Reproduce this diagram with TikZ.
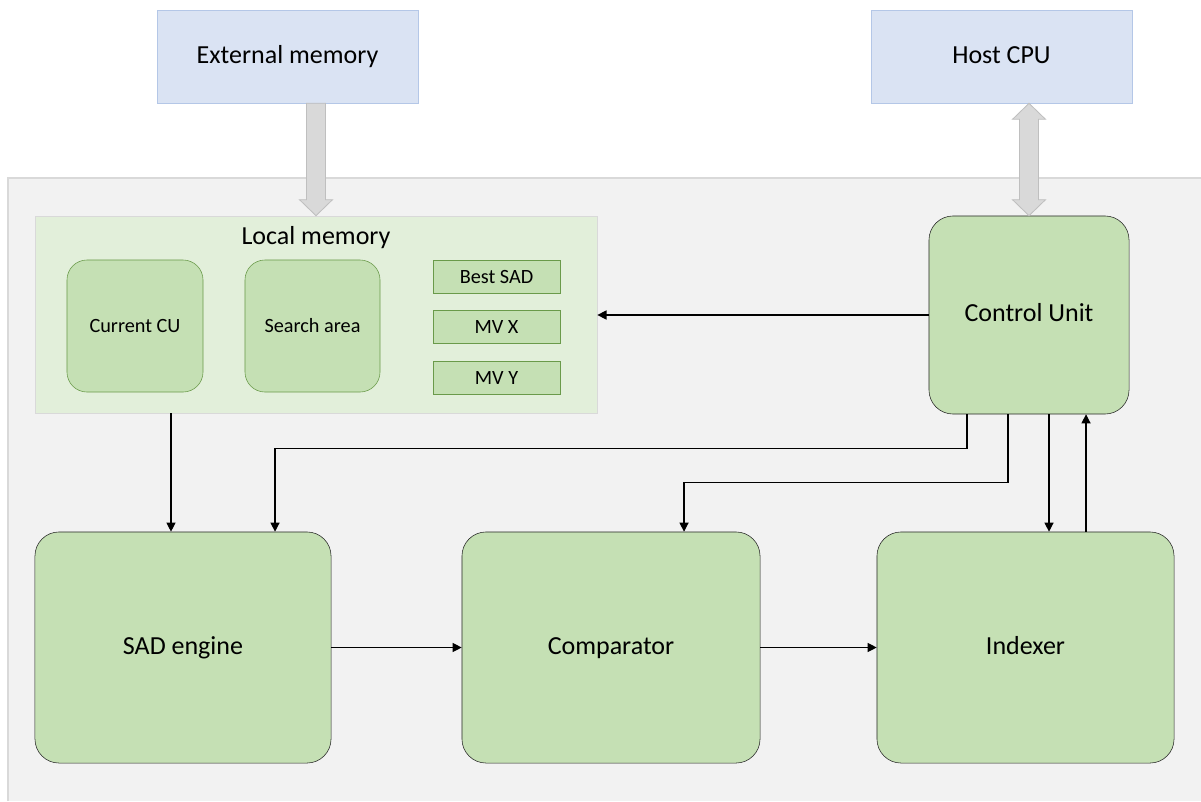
\documentclass[tikz,border=0pt]{standalone}
\usepackage{fontspec}
\setmainfont{Carlito}
\usetikzlibrary{arrows.meta}

\definecolor{hostblue}{HTML}{DAE3F3}
\definecolor{hostline}{HTML}{B4C7E7}
\definecolor{panelgray}{HTML}{F2F2F2}
\definecolor{panelline}{HTML}{D9D9D9}
\definecolor{memgreen}{HTML}{E2EFDA}
\definecolor{unitgreen}{HTML}{C5E0B4}
\definecolor{cellline}{HTML}{6A9A4A}
\definecolor{busgray}{HTML}{D9D9D9}
\definecolor{busline}{HTML}{BFBFBF}

\begin{document}
\begin{tikzpicture}[
  x=0.025cm, y=-0.025cm,
  outside/.style={draw=hostline, fill=hostblue, minimum width=6.525cm, minimum height=2.325cm, text height=2ex, text depth=0pt, font=\fontsize{18.5}{22}\selectfont},
  unit/.style={draw=black!85, fill=unitgreen, rounded corners=0.6cm, minimum height=5.775cm, text height=2ex, text depth=0pt, font=\fontsize{18.5}{22}\selectfont},
  memcell/.style={draw=cellline, fill=unitgreen, rounded corners=0.5cm, minimum height=3.3cm, text height=2ex, text depth=0pt, font=\fontsize{14.4}{17}\selectfont},
  reg/.style={draw=cellline, fill=unitgreen, minimum width=3.175cm, minimum height=0.825cm, text height=2ex, text depth=0pt, font=\fontsize{14.4}{17}\selectfont},
  wire/.style={-{Triangle[width=6.5pt,length=6.5pt]}, line width=0.8pt},
  bus/.style={draw=busline, fill=busgray, line width=0.6pt}
]
\useasboundingbox (0,0) rectangle (1201,801);

% chip area
\fill[panelgray] (8,178) rectangle (1201,801);
\draw[panelline, line width=0.8pt] (8,801) -- (8,178) -- (1201,178);

\node[outside] (ext) at (287.5,56.5) {External memory};
\node[outside] (host) at (1001.5,56.5) {Host CPU};

\node[draw=panelline, fill=memgreen, minimum width=14.05cm, minimum height=4.925cm] (locmem) at (316,314.5) {};
\node[font=\fontsize{18.5}{22}\selectfont, text height=2ex, text depth=0pt] (lmtitle) at ([yshift=-0.55cm]locmem.north) {Local memory};
\node[memcell, minimum width=3.4cm] (curcu) at (135,326) {Current CU};
\node[memcell, minimum width=3.375cm] (search) at (312.5,326) {Search area};
\node[reg] (bestsad) at (496.5,276.5) {Best SAD};
\node[reg] (mvx) at (496.5,327) {MV X};
\node[reg] (mvy) at (496.5,377.5) {MV Y};

\node[unit, minimum width=5cm, minimum height=4.95cm] (ctrl) at (1029,315) {Control Unit};
\node[unit, minimum width=7.4cm] (sad) at (183,647.5) {SAD engine};
\node[unit, minimum width=7.45cm] (comp) at (611,647.5) {Comparator};
\node[unit, minimum width=7.425cm] (idx) at (1025.5,647.5) {Indexer};

% block arrows
\draw[bus] ([xshift=-0.2375cm]locmem.north |- ext.south) -- ([xshift=-0.2375cm,yshift=0.4cm]locmem.north)
  -- ([xshift=-0.4125cm,yshift=0.4cm]locmem.north) -- (locmem.north)
  -- ([xshift=0.4125cm,yshift=0.4cm]locmem.north) -- ([xshift=0.2375cm,yshift=0.4cm]locmem.north)
  -- ([xshift=0.2375cm]locmem.north |- ext.south) -- cycle;
\coordinate (ht) at (ctrl.north |- host.south);
\draw[bus] (ht) -- ([xshift=0.4125cm,yshift=-0.4cm]ht) -- ([xshift=0.2375cm,yshift=-0.4cm]ht)
  -- ([xshift=0.2375cm,yshift=0.4cm]ctrl.north) -- ([xshift=0.4125cm,yshift=0.4cm]ctrl.north)
  -- (ctrl.north) -- ([xshift=-0.4125cm,yshift=0.4cm]ctrl.north) -- ([xshift=-0.2375cm,yshift=0.4cm]ctrl.north)
  -- ([xshift=-0.2375cm,yshift=-0.4cm]ht) -- ([xshift=-0.4125cm,yshift=-0.4cm]ht) -- cycle;

% signals
\draw[wire] (ctrl.west) -- (ctrl.west -| locmem.east);
\draw[wire] ([xshift=-0.3cm]sad.north |- locmem.south) -- ([xshift=-0.3cm]sad.north);
\draw[wire] ([xshift=-1.55cm]ctrl.south) -- ++(0,34) -| ([xshift=2.3cm]sad.north);
\draw[wire] ([xshift=-0.525cm]ctrl.south) -- ++(0,68) -| ([xshift=1.825cm]comp.north);
\draw[wire] ([xshift=0.5cm]ctrl.south) -- ([xshift=0.5cm]ctrl.south |- idx.north);
\draw[wire] ([xshift=1.425cm]ctrl.south |- idx.north) -- ([xshift=1.425cm]ctrl.south);
\draw[wire] (sad.east) -- (comp.west);
\draw[wire] (comp.east) -- (idx.west);
\end{tikzpicture}
\end{document}
